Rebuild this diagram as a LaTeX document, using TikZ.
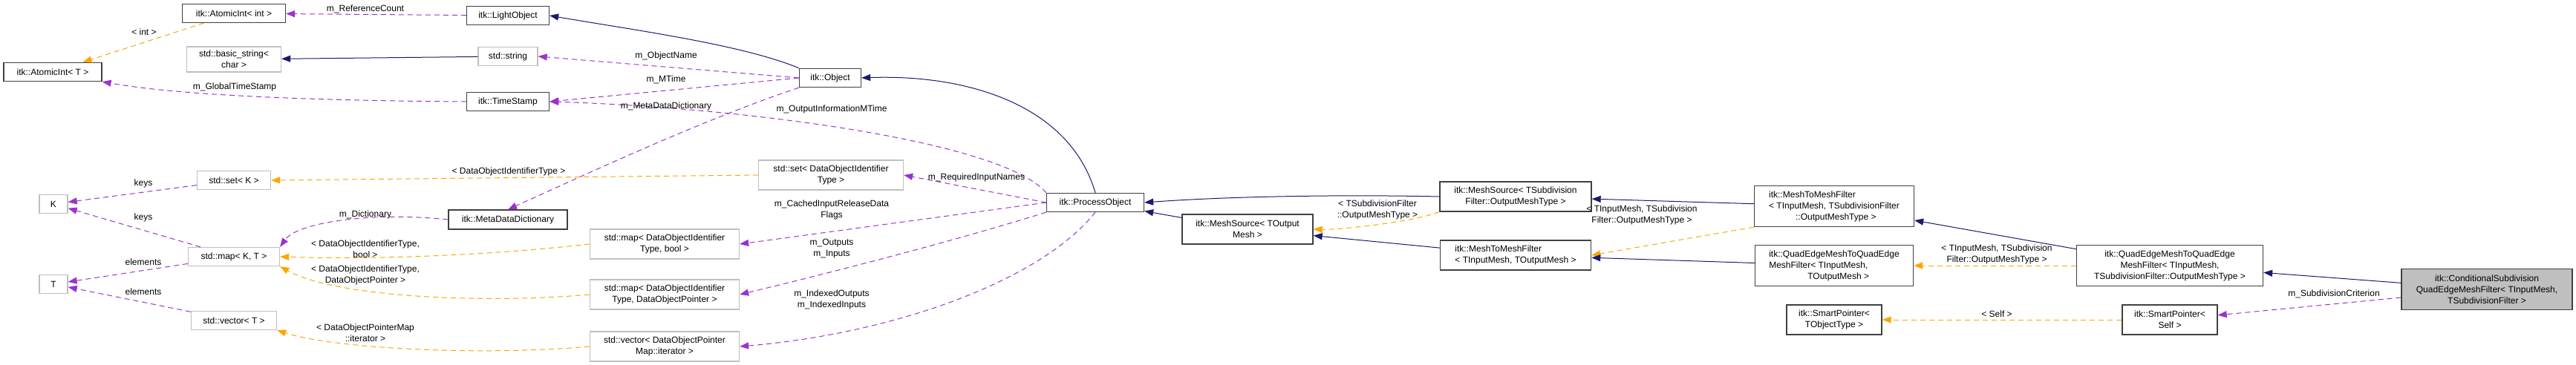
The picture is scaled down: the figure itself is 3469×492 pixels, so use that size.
\documentclass[tikz,border=0pt]{standalone}
\usepackage{fontspec}
\setmainfont{Liberation Sans}
\usetikzlibrary{arrows.meta}
\definecolor{navyc}{HTML}{191970}
\definecolor{purp}{HTML}{9A32CD}
\definecolor{orng}{HTML}{FFA500}
\definecolor{bblack}{HTML}{404040}
\definecolor{bgray}{HTML}{BFBFBF}
\tikzset{
  x=1pt,y=-1pt,
  cls/.style={draw=bblack, fill=white, line width=1.3pt, font=\fontsize{12}{15}\selectfont, inner sep=1pt, align=center},
  ext/.style={cls, draw=bgray},
  lbl/.style={font=\fontsize{12}{15}\selectfont, align=center, inner sep=0pt},
  tip/.style={-{Triangle[length=12pt,width=9pt]}},
  inh/.style={tip, draw=navyc, line width=1pt},
  use/.style={tip, draw=purp, line width=1pt, dash pattern=on 7pt off 5pt},
  tpl/.style={tip, draw=orng, line width=1pt, dash pattern=on 7pt off 5pt},
}
\begin{document}
\begin{tikzpicture}
\useasboundingbox (0,0) rectangle (3469,492);
% nodes
\node[cls, minimum width=132pt, minimum height=25pt] (AT) at (71,97) {itk::AtomicInt< T >};
\node[cls, minimum width=139pt, minimum height=25pt] (AI) at (315,18) {itk::AtomicInt< int >};
\node[ext, minimum width=127pt, minimum height=34pt] (BS) at (315,80) {std::basic\_string<\\char >};
\node[ext, minimum width=38pt, minimum height=25pt] (K) at (72,275) {K};
\node[ext, minimum width=38pt, minimum height=25pt] (T) at (72,383) {T};
\node[ext, minimum width=99pt, minimum height=25pt] (SK) at (315,243) {std::set< K >};
\node[ext, minimum width=123pt, minimum height=25pt] (MKT) at (315,346) {std::map< K, T >};
\node[ext, minimum width=115pt, minimum height=25pt] (VT) at (315,432) {std::vector< T >};
\node[cls, minimum width=111pt, minimum height=25pt] (LO) at (684,21) {itk::LightObject};
\node[ext, minimum width=80pt, minimum height=25pt] (SS) at (684,76) {std::string};
\node[cls, minimum width=111pt, minimum height=25pt] (TS) at (684,137) {itk::TimeStamp};
\node[cls, minimum width=160pt, minimum height=26pt] (MDD) at (684,296) {itk::MetaDataDictionary};
\node[ext, minimum width=201pt, minimum height=40pt] (MB) at (895,329) {std::map< DataObjectIdentifier\\Type, bool >};
\node[ext, minimum width=201pt, minimum height=40pt] (MD) at (895,397) {std::map< DataObjectIdentifier\\Type, DataObjectPointer >};
\node[ext, minimum width=201pt, minimum height=40pt] (VI) at (895,467) {std::vector< DataObjectPointer\\Map::iterator >};
\node[cls, minimum width=83pt, minimum height=25pt] (OB) at (1118,105) {itk::Object};
\node[ext, minimum width=195pt, minimum height=40pt] (SD) at (1119,236) {std::set< DataObjectIdentifier\\Type >};
\node[cls, minimum width=131pt, minimum height=25pt] (PO) at (1475,273) {itk::ProcessObject};
\node[cls, minimum width=176pt, minimum height=40pt] (MSO) at (1680,309) {itk::MeshSource< TOutput\\Mesh >};
\node[cls, minimum width=204pt, minimum height=40pt] (MSS) at (2041,265) {itk::MeshSource< TSubdivision\\Filter::OutputMeshType >};
\node[cls, minimum width=203pt, minimum height=40pt, align=left] (MMO) at (2041,344) {itk::MeshToMeshFilter\\< TInputMesh, TOutputMesh >};
\node[cls, minimum width=215pt, minimum height=55pt, align=left] (MMS) at (2470,278) {itk::MeshToMeshFilter\\< TInputMesh, TSubdivisionFilter\\\hspace*{36pt}::OutputMeshType >};
\node[cls, minimum width=213pt, minimum height=55pt, align=left] (QEO) at (2470,358) {itk::QuadEdgeMeshToQuadEdge\\MeshFilter< TInputMesh,\\\hspace*{52pt}TOutputMesh >};
\node[cls, minimum width=128pt, minimum height=40pt] (SPT) at (2470,431) {itk::SmartPointer<\\TObjectType >};
\node[cls, minimum width=251pt, minimum height=55pt] (QES) at (2922,358) {itk::QuadEdgeMeshToQuadEdge\\MeshFilter< TInputMesh,\\TSubdivisionFilter::OutputMeshType >};
\node[cls, minimum width=128pt, minimum height=40pt] (SPS) at (2922,431) {itk::SmartPointer<\\Self >};
\node[cls, fill=bgray, minimum width=230pt, minimum height=55pt] (CS) at (3349,390) {itk::ConditionalSubdivision\\QuadEdgeMeshFilter< TInputMesh,\\TSubdivisionFilter >};
% edges
\draw[tpl] (AI) -- (AT);
\draw[use] (LO) -- (AI);
\draw[inh] (SS) -- (BS);
\draw[use] (TS.west) .. controls (450,136) and (250,130) .. (AT.south east);
\draw[inh] (OB.north west) .. controls (1000,60) and (850,40) .. (LO.east);
\draw[use] (OB.west) -- (SS.east);
\draw[use] (OB.west) -- (TS.east);
\draw[use] (PO.north west) .. controls (1350,190) and (1000,145) .. (TS.east);
\draw[use] (OB.south west) .. controls (950,160) and (800,230) .. (MDD.north);
\draw[inh] (PO.north) .. controls (1440,140) and (1300,100) .. (OB.east);
\draw[use] (SK) -- (K);
\draw[use] (MKT) -- (K);
\draw[use] (MKT) -- (T);
\draw[use] (VT) -- (T);
\draw[use] (MDD.west) .. controls (500,285) and (400,300) .. (MKT.north east);
\draw[tpl] (SD.west) -- (SK.east);
\draw[tpl] (MB.west) .. controls (650,345) and (500,350) .. (MKT.east);
\draw[tpl] (MD.west) .. controls (650,410) and (450,400) .. (MKT.south east);
\draw[tpl] (VI.west) .. controls (650,480) and (450,470) .. (VT.south east);
\draw[use] (PO.west) -- (SD.east);
\draw[use] (PO.west) -- (MB.east);
\draw[use] (PO.south west) .. controls (1300,320) and (1150,360) .. (MD.east);
\draw[use] (PO.south) .. controls (1400,380) and (1200,450) .. (VI.east);
\draw[inh] (MSO) -- (PO);
\draw[inh] (MSS.west) .. controls (1800,262) and (1650,265) .. (PO.east);
\draw[tpl] (MSS.south west) .. controls (1900,300) and (1800,310) .. (MSO.east);
\draw[inh] (MMO) -- (MSO);
\draw[inh] (MMS) -- (MSS);
\draw[tpl] (MMS.south west) -- (MMO.east);
\draw[inh] (QEO) -- (MMO);
\draw[inh] (QES) -- (MMS);
\draw[tpl] (QES) -- (QEO);
\draw[tpl] (SPS) -- (SPT);
\draw[inh] (CS) -- (QES);
\draw[use] (CS) -- (SPS);
% labels
\node[lbl] (l1) at (194,43) {< int >};
\node[lbl] (l2) at (492,12) {m\_ReferenceCount};
\node[lbl] (l3) at (316,117) {m\_GlobalTimeStamp};
\node[lbl] (l4) at (897,75) {m\_ObjectName};
\node[lbl] (l5) at (897,107) {m\_MTime};
\node[lbl] (l6) at (897,143) {m\_MetaDataDictionary};
\node[lbl] (l7) at (1120,147) {m\_OutputInformationMTime};
\node[lbl] (l8) at (1315,239) {m\_RequiredInputNames};
\node[lbl] (l9) at (1120,283) {m\_CachedInputReleaseData\\Flags};
\node[lbl] (l10) at (1120,335) {m\_Outputs\\m\_Inputs};
\node[lbl] (l11) at (1120,404) {m\_IndexedOutputs\\m\_IndexedInputs};
\node[lbl] (l12) at (193,247) {keys};
\node[lbl] (l13) at (193,293) {keys};
\node[lbl] (l14) at (193,353) {elements};
\node[lbl] (l15) at (193,393) {elements};
\node[lbl] (l16) at (492,289) {m\_Dictionary};
\node[lbl] (l17) at (685,231) {< DataObjectIdentifierType >};
\node[lbl] (l18) at (492,336) {< DataObjectIdentifierType,\\bool >};
\node[lbl] (l19) at (492,371) {< DataObjectIdentifierType,\\DataObjectPointer >};
\node[lbl] (l20) at (492,449) {< DataObjectPointerMap\\::iterator >};
\node[lbl] (l21) at (1855,283) {< TSubdivisionFilter\\::OutputMeshType >};
\node[lbl] (l22) at (2211,290) {< TInputMesh, TSubdivision\\Filter::OutputMeshType >};
\node[lbl] (l23) at (2689,343) {< TInputMesh, TSubdivision\\Filter::OutputMeshType >};
\node[lbl] (l24) at (2689,423) {< Self >};
\node[lbl] (l25) at (3143,396) {m\_SubdivisionCriterion};
\end{tikzpicture}
\end{document}
